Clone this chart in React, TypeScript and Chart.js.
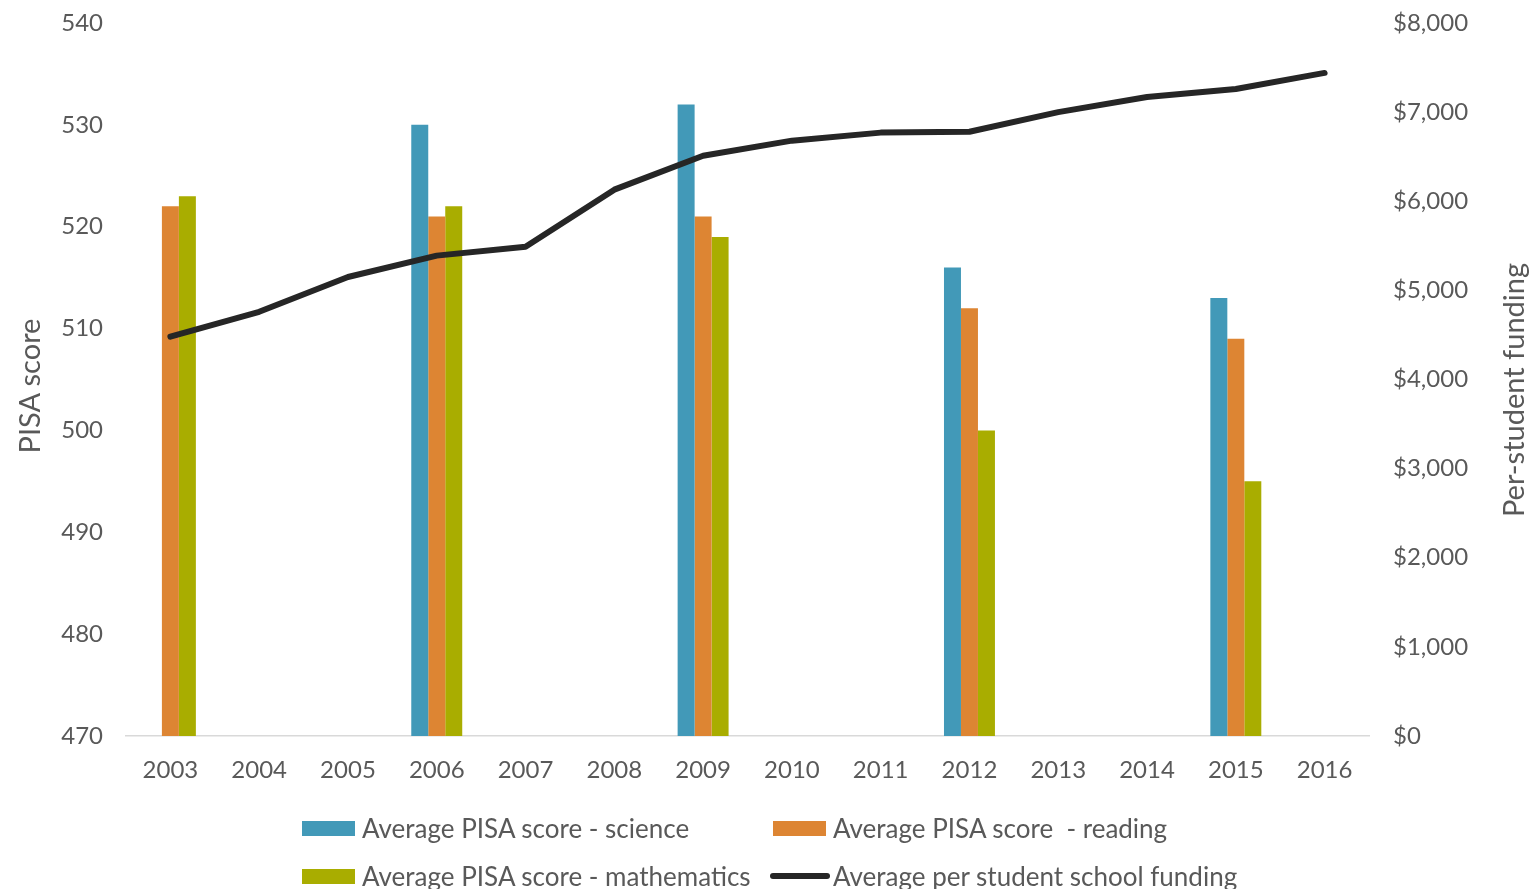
import React, { useEffect, useRef } from "react";
import { Chart, registerables } from "chart.js";

Chart.register(...registerables);

const years = ["2003","2004","2005","2006","2007","2008","2009","2010","2011","2012","2013","2014","2015","2016"];
const science = [null, null, null, 530, null, null, 532, null, null, 516, null, null, 513, null];
const reading = [522, null, null, 521, null, null, 521, null, null, 512, null, null, 509, null];
const mathematics = [523, null, null, 522, null, null, 519, null, null, 500, null, null, 495, null];
const funding = [4480, 4760, 5150, 5390, 5490, 6130, 6510, 6680, 6770, 6780, 7000, 7170, 7260, 7440];

const seriesNames = [
  "Average PISA score - science",
  "Average PISA score  - reading",
  "Average PISA score - mathematics",
  "Average per student school funding",
];
const axisTitles = ["PISA score", "Per-student funding"];
const colors = ["#4299b8", "#dd8533", "#a9ad00", "#262626"];

const FONT = "Lato, 'Noto Sans', sans-serif";
const GREY = "#595959";

export default function App() {
  const ref = useRef<HTMLCanvasElement | null>(null);

  useEffect(() => {
    const prevMargin = document.body.style.margin;
    document.body.style.margin = "0";
    const ctx = ref.current!;
    const chart = new Chart(ctx, {
      type: "bar",
      data: {
        labels: years,
        datasets: [
          { type: "line", label: seriesNames[3], data: funding, yAxisID: "y1", borderColor: colors[3], backgroundColor: colors[3], borderWidth: 6, pointRadius: 0, tension: 0, borderCapStyle: "round", borderJoinStyle: "round", order: 0 } as any,
          { label: seriesNames[0], data: science, backgroundColor: colors[0], yAxisID: "y", order: 1 },
          { label: seriesNames[1], data: reading, backgroundColor: colors[1], yAxisID: "y", order: 1 },
          { label: seriesNames[2], data: mathematics, backgroundColor: colors[2], yAxisID: "y", order: 1 },
        ],
      },
      options: {
        animation: false,
        responsive: false,
        devicePixelRatio: 1,
        layout: { padding: { top: 23, left: 0, right: 0, bottom: 0 } },
        datasets: { bar: { categoryPercentage: 0.574, barPercentage: 1 } },
        plugins: { legend: { display: false }, tooltip: { enabled: false } },
        scales: {
          x: {
            offset: true,
            grid: { display: false, drawTicks: false },
            border: { display: true, color: "#d9d9d9", width: 1.5 },
            ticks: { color: GREY, font: { family: FONT, size: 24 }, padding: 20, maxRotation: 0 },
            afterFit: (s: any) => { s.height = 153; s.paddingLeft = 0; s.paddingRight = 0; },
          },
          y: {
            position: "left",
            min: 470, max: 540,
            ticks: { stepSize: 10, color: GREY, font: { family: FONT, size: 24 }, padding: 23 },
            grid: { display: false, drawTicks: false },
            border: { display: false },
            afterFit: (s: any) => { s.width = 126; s.paddingTop = 0; s.paddingBottom = 0; },
          },
          y1: {
            position: "right",
            min: 0, max: 8000,
            ticks: { stepSize: 1000, color: GREY, font: { family: FONT, size: 24 }, padding: 24,
              callback: (v: any) => "$" + Number(v).toLocaleString("en-US") },
            grid: { display: false, drawTicks: false },
            border: { display: false },
            afterFit: (s: any) => { s.width = 166; s.paddingTop = 0; s.paddingBottom = 0; },
          },
        },
      },
    });
    return () => { chart.destroy(); document.body.style.margin = prevMargin; };
  }, []);

  const legendItem = (i: number, left: number, top: number) => (
    <div key={i} style={{ position: "absolute", left, top, display: "flex", alignItems: "center", height: 30 }}>
      {i === 3 ? (
        <div style={{ width: 60, height: 6, borderRadius: 3, background: colors[3], marginLeft: -3, marginRight: 3 }} />
      ) : (
        <div style={{ width: 53, height: 15, background: colors[i], marginRight: 7 }} />
      )}
      <span style={{ fontFamily: FONT, fontSize: 26, color: GREY, whiteSpace: "pre", lineHeight: "30px" }}>{seriesNames[i]}</span>
    </div>
  );

  const axisTitle = (text: string, cx: number, cy: number, size: number) => (
    <div key={text} style={{ position: "absolute", left: cx - 200, top: cy - 20, width: 400, height: 40, lineHeight: "40px", textAlign: "center", transform: "rotate(-90deg)", fontFamily: FONT, fontSize: size, color: GREY, whiteSpace: "nowrap" }}>{text}</div>
  );

  return (
    <div style={{ position: "fixed", left: 0, top: 0, width: 1535, height: 889, overflow: "hidden", background: "#fff" }}>
      <canvas ref={ref} width={1535} height={889} style={{ position: "absolute", left: 0, top: 0, width: 1535, height: 889 }} />
      {axisTitle(axisTitles[0], 29, 386, 29)}
      {axisTitle(axisTitles[1], 1513, 390, 29)}
      {legendItem(0, 302, 813)}
      {legendItem(1, 773, 813)}
      {legendItem(2, 302, 861)}
      {legendItem(3, 773, 861)}
    </div>
  );
}
